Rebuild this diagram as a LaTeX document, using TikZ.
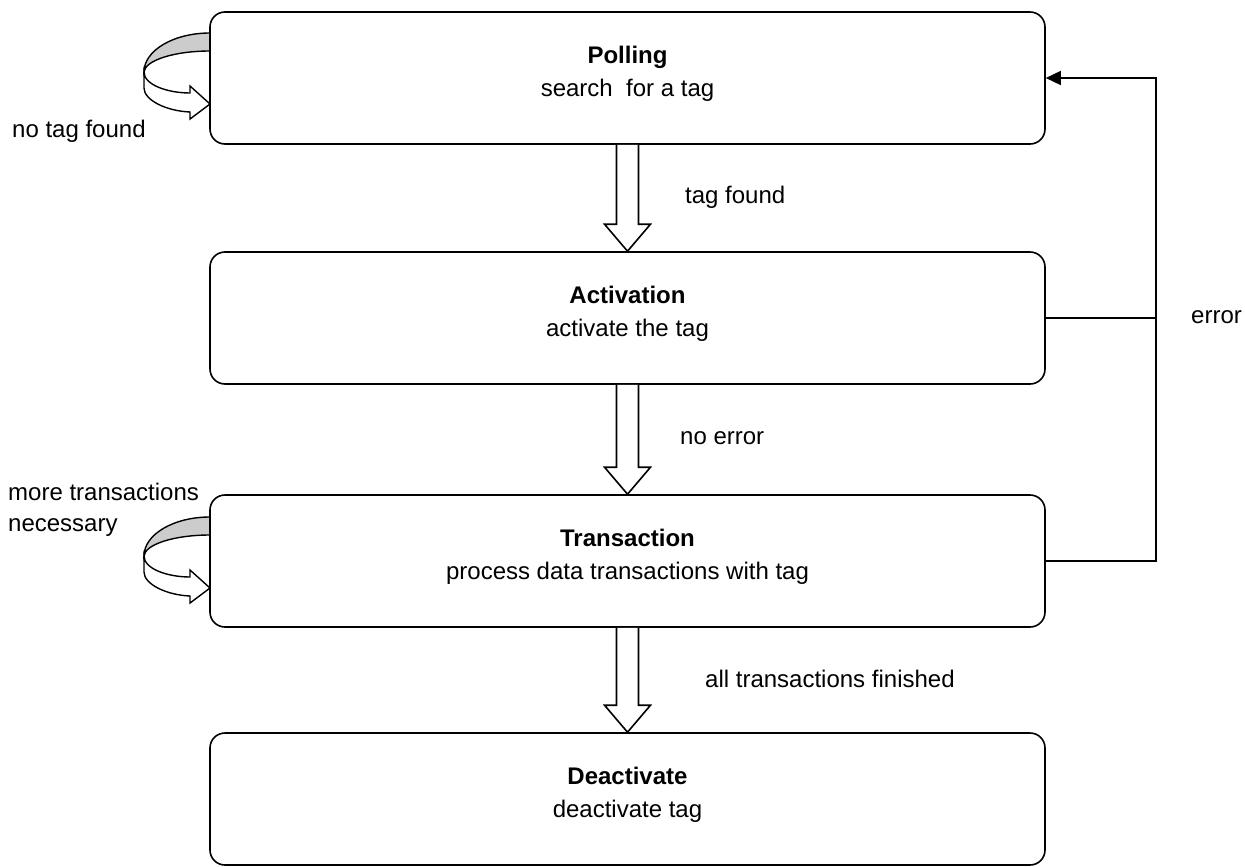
\documentclass[tikz,border=0pt]{standalone}
\usepackage{fontspec}
\setmainfont{Liberation Sans}
\usetikzlibrary{arrows.meta,calc}
\newcommand\hollowarrow[2]{%
  \draw[blockarrow] ($(#1.south)+(-11,0)$) -- ($(#2.north)+(-11,-27)$) -- ($(#2.north)+(-23,-27)$)
    -- (#2.north) -- ($(#2.north)+(23,-27)$) -- ($(#2.north)+(11,-27)$) -- ($(#1.south)+(11,0)$);}
\newcommand\lowstrut{\rule[-13pt]{0pt}{0pt}}
\begin{document}
\begin{tikzpicture}[x=1pt,y=-1pt,
  every node/.style={font=\fontsize{24}{33}\selectfont},
  state/.style={draw, line width=1.6pt, rounded corners=15pt, minimum width=835pt,
    minimum height=132pt, align=center, fill=white, inner sep=0pt},
  lbl/.style={anchor=base west, inner sep=0pt},
  blockarrow/.style={draw, line width=1.6pt, fill=white, line join=miter},
  flow/.style={line width=1.6pt},
  loopback/.pic={
    \draw[line width=1.4pt, fill=black!20] (210,33) .. controls (173.5,33) and (144,50.5) .. (144,72)
      .. controls (145,60.4) and (174.1,51) .. (210,51);
    \draw[line width=1.4pt, fill=white, line join=miter] (144,72) .. controls (144,85) and (168,93) .. (190,93)
      -- (190,86) -- (210,104) -- (190,119) -- (190,112) .. controls (166,111) and (144,100) .. (144,88) -- cycle;
  }
]
\useasboundingbox (0,0) rectangle (1245,867);

\pic at (0,0) {loopback};
\pic at (0,484) {loopback};

\node[state] (poll)  at (627.5,78)  {\textbf{Polling}\\search\ \ for a tag\lowstrut};
\node[state] (act)   at (627.5,318) {\textbf{Activation}\\activate the tag\lowstrut};
\node[state] (trans) at (627.5,561) {\textbf{Transaction}\\process data transactions with tag\lowstrut};
\node[state] (deact) at (627.5,799) {\textbf{Deactivate}\\deactivate tag\lowstrut};

\hollowarrow{poll}{act}
\hollowarrow{act}{trans}
\hollowarrow{trans}{deact}

\draw[flow, -{Triangle[length=15pt,width=14pt]}] (trans.east) -- ++(110,0) coordinate (ecorner) |- (poll.east);
\draw[flow] (act.east) -- (act.east -| ecorner);

\node[lbl] (l1) at (12,137) {no tag found};
\node[lbl] (l2) at (685,203) {tag found};
\node[lbl] (l3) at (680,444) {no error};
\node[lbl] (l4) at (705,687) {all transactions finished};
\node[lbl] (l5) at (8,500) {more transactions};
\node[lbl] (l6) at (8,531) {necessary};
\node[lbl] (l7) at (1191,323) {error};
\end{tikzpicture}
\end{document}
